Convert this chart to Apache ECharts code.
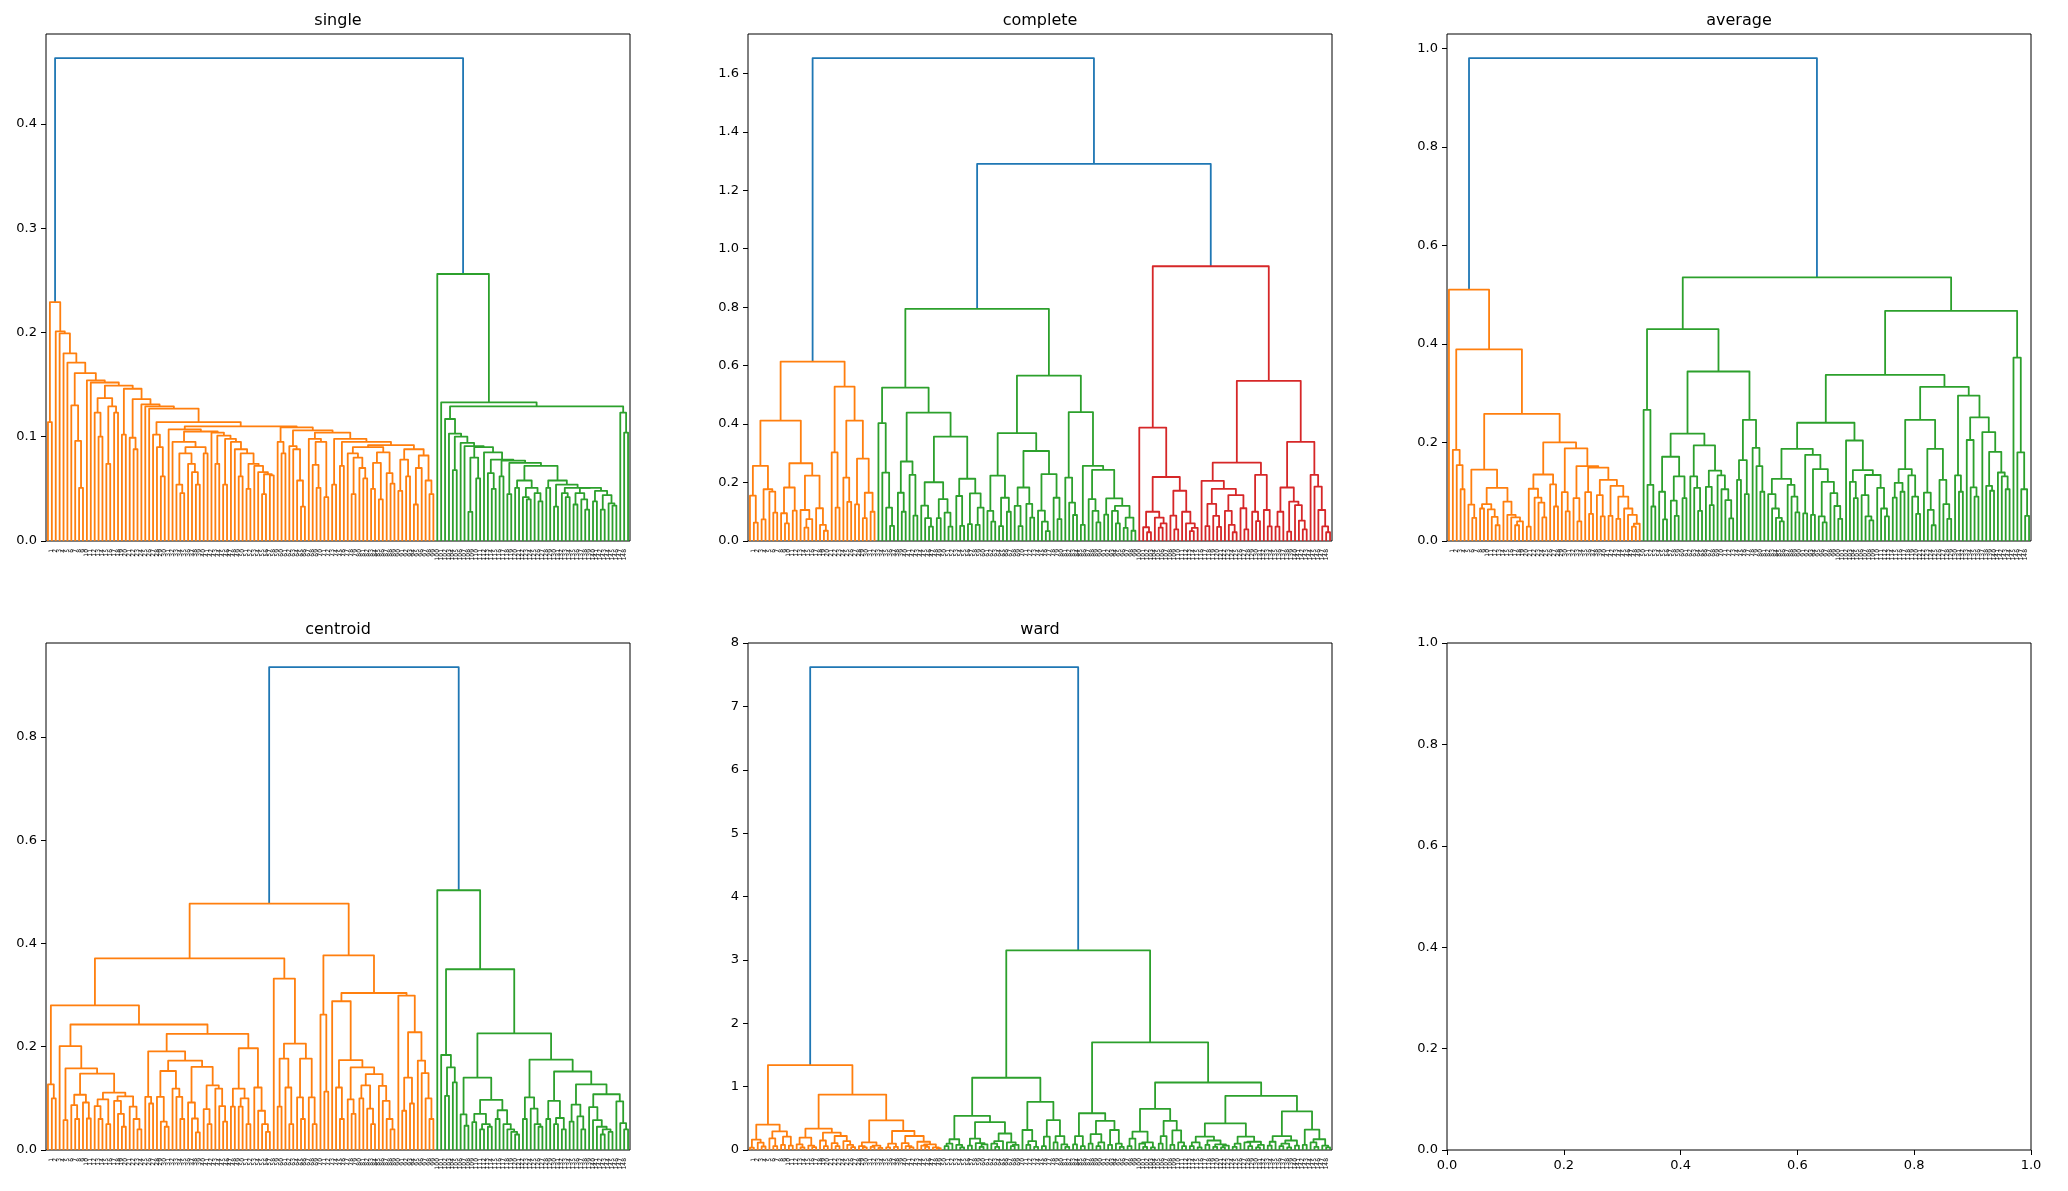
<!DOCTYPE html>
<html>
<head>
<meta charset="utf-8">
<script src="https://cdn.jsdelivr.net/npm/echarts@6/dist/echarts.min.js"></script>
<style>
  html, body { margin: 0; padding: 0; background: #fff; }
  #chart { width: 2068px; height: 1191px; }
</style>
</head>
<body>
<div id="chart"></div>
<script>
// Each list holds the merge height between neighbouring leaves, left to right.
// The dendrogram is rebuilt from them by splitting at the highest gap.

// single
const singleOrange = [
  0.114, 0.229, 0.201, 0.199, 0.180, 0.171, 0.130, 0.096, 0.051, 0.161,
  0.154, 0.152, 0.123, 0.100, 0.137, 0.074, 0.129, 0.123, 0.149, 0.102,
  0.146, 0.099, 0.088, 0.136, 0.131, 0.129, 0.127, 0.102, 0.090, 0.062,
  0.114, 0.107, 0.095, 0.054, 0.046, 0.084, 0.074, 0.066, 0.054, 0.090,
  0.084, 0.105, 0.104, 0.074, 0.101, 0.054, 0.098, 0.095, 0.088, 0.062,
  0.084, 0.050, 0.074, 0.072, 0.066, 0.045, 0.064, 0.063, 0.110, 0.095,
  0.084, 0.109, 0.091, 0.088, 0.058, 0.033, 0.106, 0.098, 0.073, 0.051,
  0.095, 0.042, 0.104, 0.054, 0.098, 0.072, 0.095, 0.084, 0.045, 0.080,
  0.070, 0.060, 0.090, 0.050, 0.075, 0.040, 0.085, 0.065, 0.055, 0.092,
  0.048, 0.078, 0.062, 0.088, 0.035, 0.070, 0.082, 0.058, 0.045
];
const singleRoot = 0.463;
const singleGreen = [
  0.256, 0.133, 0.117, 0.103, 0.068, 0.100, 0.094, 0.091, 0.028, 0.080,
  0.060, 0.090, 0.085, 0.065, 0.050, 0.078, 0.062, 0.077, 0.045, 0.075,
  0.051, 0.058, 0.042, 0.040, 0.051, 0.046, 0.038, 0.072, 0.051, 0.058,
  0.033, 0.054, 0.046, 0.042, 0.051, 0.035, 0.046, 0.040, 0.030, 0.051,
  0.038, 0.048, 0.030, 0.044, 0.036, 0.034, 0.129, 0.123, 0.104
];

// complete
const completeOrange = [
  0.155, 0.063, 0.257, 0.074, 0.177, 0.169, 0.097, 0.412, 0.095, 0.060,
  0.183, 0.104, 0.266, 0.106, 0.046, 0.075, 0.224, 0.112, 0.055, 0.035,
  0.614, 0.303, 0.114, 0.528, 0.217, 0.134, 0.412, 0.125, 0.282, 0.078,
  0.165, 0.100
];
const completeRoot = 1.652;
const completeGreen = [
  0.403, 0.234, 0.114, 0.052, 0.525, 0.165, 0.100, 0.272, 0.226, 0.087,
  0.439, 0.121, 0.078, 0.049, 0.201, 0.078, 0.143, 0.097, 0.049, 0.357,
  0.154, 0.052, 0.213, 0.058, 0.163, 0.055, 0.114, 0.794, 0.103, 0.066,
  0.224, 0.051, 0.148, 0.100, 0.369, 0.120, 0.051, 0.183, 0.127, 0.080,
  0.308, 0.104, 0.066, 0.034, 0.229, 0.148, 0.075, 0.566, 0.217, 0.131,
  0.089, 0.441, 0.055, 0.257, 0.143, 0.103, 0.064, 0.243, 0.090, 0.146,
  0.103, 0.060, 0.120, 0.045, 0.080, 0.035
];
const completeSplit = 1.29;
const completeRed = [
  0.388, 0.047, 0.030, 0.100, 0.080, 0.046, 0.060, 0.219, 0.087, 0.040,
  0.172, 0.100, 0.060, 0.034, 0.045, 0.940, 0.206, 0.051, 0.127, 0.086,
  0.048, 0.178, 0.103, 0.055, 0.030, 0.157, 0.112, 0.040, 0.268, 0.100,
  0.068, 0.226, 0.106, 0.050, 0.548, 0.049, 0.100, 0.183, 0.032, 0.135,
  0.123, 0.070, 0.040, 0.339, 0.226, 0.186, 0.106, 0.050, 0.030
];

// average
const averageOrange = [
  0.510, 0.185, 0.154, 0.105, 0.389, 0.074, 0.047, 0.145, 0.066, 0.075,
  0.064, 0.049, 0.032, 0.108, 0.080, 0.053, 0.048, 0.032, 0.040, 0.258,
  0.029, 0.106, 0.088, 0.078, 0.048, 0.135, 0.115, 0.070, 0.200, 0.099,
  0.060, 0.188, 0.087, 0.040, 0.152, 0.099, 0.055, 0.149, 0.093, 0.050,
  0.124, 0.051, 0.112, 0.045, 0.090, 0.066, 0.053, 0.029, 0.035
];
const averageRoot = 0.98;
const averageGreen = [
  0.266, 0.114, 0.070, 0.430, 0.100, 0.044, 0.171, 0.082, 0.051, 0.131,
  0.087, 0.218, 0.131, 0.108, 0.061, 0.194, 0.110, 0.073, 0.143, 0.133,
  0.105, 0.083, 0.046, 0.344, 0.124, 0.164, 0.095, 0.246, 0.189, 0.152,
  0.100, 0.535,
  0.095, 0.066, 0.047, 0.040, 0.126, 0.114, 0.090, 0.058, 0.187, 0.056,
  0.175, 0.053, 0.146, 0.050, 0.038, 0.120, 0.097, 0.071, 0.045, 0.240,
  0.204, 0.120, 0.087, 0.144, 0.093, 0.050, 0.042, 0.134, 0.108, 0.066,
  0.050, 0.337, 0.088, 0.118, 0.100, 0.146, 0.133, 0.090, 0.055, 0.246,
  0.098, 0.063, 0.032, 0.187, 0.124, 0.075, 0.045, 0.313, 0.133, 0.100,
  0.295, 0.205, 0.109, 0.090, 0.251, 0.221, 0.112, 0.102, 0.181, 0.139,
  0.131, 0.105, 0.467, 0.372, 0.180, 0.105, 0.051
];

// centroid
const centroidOrange = [
  0.127, 0.100, 0.280,
  0.201, 0.058, 0.158, 0.087, 0.060, 0.107, 0.092, 0.061, 0.148, 0.085,
  0.060, 0.098, 0.050, 0.111, 0.095, 0.070, 0.045, 0.104, 0.084, 0.060,
  0.040, 0.243,
  0.103, 0.090, 0.191, 0.103, 0.055, 0.045, 0.153, 0.119, 0.103, 0.060,
  0.173, 0.092, 0.061, 0.034, 0.161, 0.079, 0.050, 0.125, 0.119, 0.085,
  0.055, 0.225, 0.084, 0.119, 0.084, 0.100, 0.050, 0.197, 0.121, 0.076,
  0.050, 0.035, 0.371,
  0.332, 0.084, 0.177, 0.121, 0.050, 0.206, 0.102, 0.060, 0.177, 0.102,
  0.050, 0.477,
  0.262, 0.113, 0.377, 0.288, 0.121, 0.060, 0.174, 0.098, 0.070, 0.160,
  0.100, 0.125, 0.080, 0.050, 0.147, 0.124, 0.095, 0.060, 0.040, 0.304,
  0.299, 0.076, 0.140, 0.090, 0.228, 0.173, 0.149, 0.100, 0.060
];
const centroidRoot = 0.935;
const centroidGreen = [
  0.503, 0.184, 0.105, 0.160, 0.131, 0.350, 0.069, 0.047, 0.140, 0.054,
  0.070, 0.040, 0.050, 0.045, 0.097, 0.060, 0.077, 0.050, 0.040, 0.035,
  0.030, 0.226, 0.060, 0.102, 0.080, 0.050, 0.045, 0.175, 0.060, 0.095,
  0.050, 0.062, 0.040, 0.152, 0.055, 0.088, 0.065, 0.040, 0.127, 0.083,
  0.058, 0.045, 0.030, 0.040, 0.035, 0.108, 0.094, 0.052, 0.040
];

// ward
const wardOrange = [
  0.037, 0.163, 0.116, 0.055, 0.400, 0.184, 0.060, 0.295, 0.080, 0.210,
  0.070, 1.340, 0.090, 0.040, 0.195, 0.070, 0.045, 0.337, 0.150, 0.060,
  0.274, 0.110, 0.060, 0.221, 0.140, 0.080, 0.045, 0.875, 0.060, 0.040,
  0.120, 0.050, 0.070, 0.035, 0.469, 0.040, 0.100, 0.050, 0.300, 0.110,
  0.060, 0.040, 0.221, 0.130, 0.070, 0.050, 0.090, 0.040, 0.030
];
const wardRoot = 7.62;
const wardGreen = [
  0.060, 0.100, 0.170, 0.080, 0.040, 0.540, 0.070, 0.180, 0.110, 0.050,
  0.090, 0.440, 0.100, 0.050, 0.140, 0.260, 0.120, 0.060, 0.080, 1.140,
  0.316, 0.080, 0.140, 0.050, 0.760, 0.060, 0.210, 0.470, 0.120, 0.220,
  0.090, 0.050, 3.150, 0.090, 0.220, 0.060, 0.580, 0.100, 0.250, 0.060,
  0.120, 0.460, 0.080, 0.316, 0.100, 0.050, 1.700, 0.060, 0.180, 0.290,
  0.100, 0.050, 0.120, 0.040, 0.650, 0.100, 0.220, 0.460, 0.080, 0.310,
  0.120, 0.060, 1.065, 0.060, 0.120, 0.040, 0.210, 0.080, 0.150, 0.050,
  0.090, 0.040, 0.070, 0.420, 0.050, 0.100, 0.210, 0.120, 0.060, 0.130,
  0.040, 0.080, 0.854, 0.070, 0.130, 0.220, 0.060, 0.100, 0.040, 0.150,
  0.070, 0.610, 0.080, 0.320, 0.120, 0.050, 0.170, 0.070, 0.040
];

const titles = ['single', 'complete', 'average', 'centroid', 'ward'];
const gapLists = [
  [...singleOrange, singleRoot, ...singleGreen],
  [...completeOrange, completeRoot, ...completeGreen, completeSplit, ...completeRed],
  [...averageOrange, averageRoot, ...averageGreen],
  [...centroidOrange, centroidRoot, ...centroidGreen],
  [...wardOrange, wardRoot, ...wardGreen]
];
const yTickLists = [
  [0, 0.1, 0.2, 0.3, 0.4],
  [0, 0.2, 0.4, 0.6, 0.8, 1.0, 1.2, 1.4, 1.6],
  [0, 0.2, 0.4, 0.6, 0.8, 1.0],
  [0, 0.2, 0.4, 0.6, 0.8],
  [0, 1, 2, 3, 4, 5, 6, 7, 8]
];
const emptyTicks = [0, 0.2, 0.4, 0.6, 0.8, 1.0];

const FONT = 'DejaVu Sans';
const TICK_FS = 13;
const aboveColor = '#1f77b4';
const palette = ['#ff7f0e', '#2ca02c', '#d62728', '#9467bd', '#8c564b',
                 '#e377c2', '#7f7f7f', '#bcbd22', '#17becf'];

const colLeft = [46, 748, 1447];
const rowTop = [34, 643];
const panelW = 584;
const panelH = 507;

// rebuild the tree and turn every merge into a U shaped link
function buildLinks(gaps) {
  const top = Math.max(...gaps);
  const cut = 0.7 * top;
  const links = [];
  let clusterNo = -1;

  function grow(lo, hi) {
    if (lo === hi) return { leaf: true, x: 5 + 10 * lo, h: 0 };
    let k = lo;
    for (let i = lo + 1; i < hi; i++) if (gaps[i] > gaps[k]) k = i;
    const left = grow(lo, k);
    const right = grow(k + 1, hi);
    return { leaf: false, h: gaps[k], x: (left.x + right.x) / 2, left, right };
  }

  function paint(node, color) {
    if (node.leaf) return;
    let c = color;
    if (!c && node.h < cut) {
      clusterNo++;
      c = palette[clusterNo % palette.length];
    }
    const l = node.left, r = node.right;
    links.push({
      coords: [[l.x, l.h], [l.x, node.h], [r.x, node.h], [r.x, r.h]],
      lineStyle: { color: c || aboveColor }
    });
    paint(l, c);
    paint(r, c);
  }

  paint(grow(0, gaps.length), null);
  return { links, top, n: gaps.length + 1 };
}

const grids = [], xAxes = [], yAxes = [], series = [], graphics = [];

for (let p = 0; p < 6; p++) {
  grids.push({
    left: colLeft[p % 3], top: rowTop[Math.floor(p / 3)],
    width: panelW, height: panelH,
    show: true, borderColor: '#000', borderWidth: 1,
    containLabel: false, outerBoundsMode: 'none'
  });
}

for (let p = 0; p < 5; p++) {
  const tree = buildLinks(gapLists[p]);
  const leafPos = [];
  for (let i = 0; i < tree.n; i++) leafPos.push(5 + 10 * i);
  const ward = titles[p] === 'ward';

  xAxes.push({
    type: 'value', gridIndex: p, min: 0, max: 10 * tree.n,
    axisLine: { show: false, onZero: false },
    axisTick: { show: false },
    splitLine: { show: false },
    axisLabel: {
      customValues: leafPos,
      formatter: v => String(Math.round((v - 5) / 10)),
      rotate: 90, fontSize: 6, fontFamily: FONT, color: '#000', margin: 8
    }
  });
  yAxes.push({
    type: 'value', gridIndex: p, min: 0, max: tree.top * 1.05,
    axisLine: { show: false },
    splitLine: { show: false },
    axisTick: { show: true, length: 5, customValues: yTickLists[p],
                lineStyle: { color: '#000', width: 1 } },
    axisLabel: {
      customValues: yTickLists[p],
      formatter: v => ward ? String(Math.round(v)) : v.toFixed(1),
      fontSize: TICK_FS, fontFamily: FONT, color: '#000', margin: 9
    }
  });
  series.push({
    type: 'lines', coordinateSystem: 'cartesian2d',
    xAxisIndex: p, yAxisIndex: p, polyline: true, silent: true,
    lineStyle: { width: 1.8, opacity: 1, curveness: 0, join: 'round' },
    data: tree.links
  });
  graphics.push({
    type: 'text',
    x: colLeft[p % 3] + panelW / 2,
    y: rowTop[Math.floor(p / 3)] - 5,
    style: {
      text: titles[p], fill: '#000', fontSize: 16, fontFamily: FONT,
      align: 'center', verticalAlign: 'bottom',
      textAlign: 'center', textVerticalAlign: 'bottom'
    }
  });
}

// the sixth panel stays empty
xAxes.push({
  type: 'value', gridIndex: 5, min: 0, max: 1,
  axisLine: { show: false, onZero: false }, splitLine: { show: false },
  axisTick: { show: true, length: 5, customValues: emptyTicks, lineStyle: { color: '#000' } },
  axisLabel: { customValues: emptyTicks, formatter: v => v.toFixed(1),
               fontSize: TICK_FS, fontFamily: FONT, color: '#000', margin: 9 }
});
yAxes.push({
  type: 'value', gridIndex: 5, min: 0, max: 1,
  axisLine: { show: false }, splitLine: { show: false },
  axisTick: { show: true, length: 5, customValues: emptyTicks, lineStyle: { color: '#000' } },
  axisLabel: { customValues: emptyTicks, formatter: v => v.toFixed(1),
               fontSize: TICK_FS, fontFamily: FONT, color: '#000', margin: 9 }
});

const chart = echarts.init(document.getElementById('chart'), null, { renderer: 'canvas' });
chart.setOption({
  animation: false,
  backgroundColor: '#fff',
  grid: grids,
  xAxis: xAxes,
  yAxis: yAxes,
  series: series,
  graphic: graphics
});
</script>
</body>
</html>
